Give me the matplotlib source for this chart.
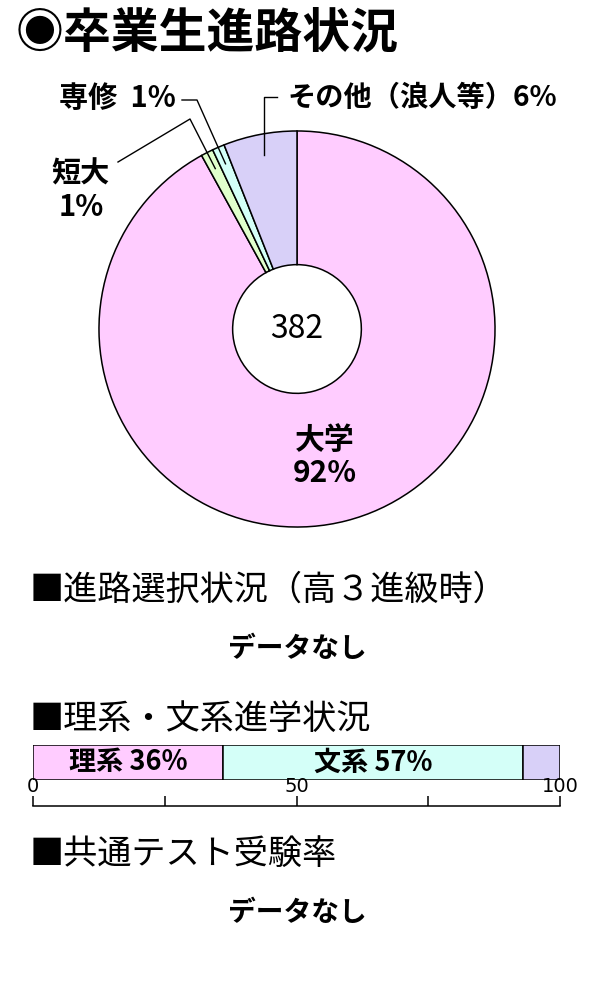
import numpy as np
import matplotlib
matplotlib.use("Agg")
import matplotlib.pyplot as plt

plt.rcParams["font.family"] = ["Noto Sans CJK JP", "DejaVu Sans"]

TITLE = "◉卒業生進路状況"

# pie: clockwise from 12 o'clock
PIE_CATS = ["大学", "短大", "専修", "その他（浪人等）"]
PIE_VALUES = [92, 1, 1, 6]
PIE_COLORS = ["#FFCCFF", "#E0FFCC", "#D4FFF8", "#D8D0F8"]
TOTAL = 382

# 理系・文系 bar
BAR_CATS = ["理系", "文系", "その他"]
BAR_VALUES = [36, 57, 7]
BAR_COLORS = ["#FFCCFF", "#D4FFF8", "#D8D0F8"]
BAR_TICKS = [0, 25, 50, 75, 100]
BAR_TICKLABELS = ["0", "", "50", "", "100"]

SECTIONS = ["■進路選択状況（高３進級時）", "■理系・文系進学状況", "■共通テスト受験率"]
NO_DATA = "データなし"

W, H = 600, 1000
fig = plt.figure(figsize=(W / 100, H / 100), dpi=100)
fig.patch.set_facecolor("white")

# overlay in pixel coords
ax = fig.add_axes([0, 0, 1, 1])
ax.set_xlim(0, W)
ax.set_ylim(H, 0)
ax.axis("off")
ax.patch.set_alpha(0)
ax.set_zorder(3)

ax.text(16, 33, TITLE, fontsize=34.5, fontweight="bold", ha="left", va="center")

# donut
cx, cy, R, r_in = 297, 329, 200, 65
pax = fig.add_axes([(cx - R) / W, 1 - (cy + R) / H, 2 * R / W, 2 * R / H])
pax.pie(
    PIE_VALUES,
    colors=PIE_COLORS,
    startangle=90,
    counterclock=False,
    radius=1.0,
    wedgeprops=dict(width=1 - r_in / R, edgecolor="black", linewidth=1.1),
)
pax.set_xlim(-1.01, 1.01)
pax.set_ylim(-1.01, 1.01)
pax.set_aspect("equal")
pax.axis("off")

ax.text(cx, cy, str(TOTAL), fontsize=23, ha="center", va="center")


def wedge_point(i, rad):
    cum = np.cumsum([0] + PIE_VALUES) / sum(PIE_VALUES)
    theta = 2 * np.pi * (cum[i] + cum[i + 1]) / 2
    return cx + rad * np.sin(theta), cy - rad * np.cos(theta)


lw = 1.0
lab = dict(fontsize=21, fontweight="bold", va="center")
# 短大
x1, y1 = wedge_point(1, 180)
ax.plot([118, 190, x1], [162, 119, y1], color="black", lw=lw)
ax.text(81, 173, PIE_CATS[1], ha="center", **lab)
ax.text(81, 207, f"{PIE_VALUES[1]}%", ha="center", **lab)
# 専修
x2, y2 = wedge_point(2, 180)
ax.plot([182, 197, x2], [100, 100, y2], color="black", lw=lw)
ax.text(176, 98, f"{PIE_CATS[2]}  {PIE_VALUES[2]}%", ha="right", **lab)
# その他
x3, y3 = wedge_point(3, 177)
ax.plot([x3, x3, 277], [y3, 97, 97], color="black", lw=lw)
ax.text(287, 98, f"{PIE_CATS[3]}{PIE_VALUES[3]}%", ha="left",
        fontsize=20.3, fontweight="bold", va="center")
# 大学
ax.text(325, 440, PIE_CATS[0], fontsize=21.5, fontweight="bold", ha="center", va="center")
ax.text(325, 473, f"{PIE_VALUES[0]}%", fontsize=21.5, fontweight="bold", ha="center", va="center")

# sections
ax.text(30, 590, SECTIONS[0], fontsize=24.6, ha="left", va="center")
ax.text(297, 649, NO_DATA, fontsize=20, fontweight="bold", ha="center", va="center")
ax.text(30, 719, SECTIONS[1], fontsize=24.6, ha="left", va="center")
ax.text(30, 854, SECTIONS[2], fontsize=24.6, ha="left", va="center")
ax.text(297, 913, NO_DATA, fontsize=20, fontweight="bold", ha="center", va="center")

# stacked bar
bl, br, bt, bb = 33, 560, 745, 780
bax = fig.add_axes([bl / W, 1 - bb / H, (br - bl) / W, (bb - bt) / H])
left = 0
for cat, val, col in zip(BAR_CATS, BAR_VALUES, BAR_COLORS):
    bax.barh(0, val, left=left, height=1.0, color=col, edgecolor="black", linewidth=1.1)
    if cat != "その他":
        bax.text(left + val / 2, 0, f"{cat} {val}%", fontsize=19.5, fontweight="bold",
                 ha="center", va="center")
    left += val
bax.set_xlim(0, 100)
bax.set_ylim(-0.5, 0.5)
bax.axis("off")

# scale line
sax = fig.add_axes([bl / W, 1 - 806 / H, (br - bl) / W, 0.0001])
sax.set_xlim(0, 100)
sax.set_yticks([])
for s in ["left", "right", "bottom"]:
    sax.spines[s].set_visible(False)
sax.spines["top"].set_linewidth(1.1)
sax.xaxis.set_ticks_position("top")
sax.xaxis.set_label_position("top")
sax.set_xticks(BAR_TICKS)
sax.set_xticklabels(BAR_TICKLABELS, family=["Liberation Sans Narrow", "DejaVu Sans"])
sax.tick_params(axis="x", direction="out", length=7, width=1.1, pad=0,
                labelsize=14, top=True, labeltop=True, bottom=False, labelbottom=False)

fig.savefig("out.png", dpi=100, facecolor="white")
